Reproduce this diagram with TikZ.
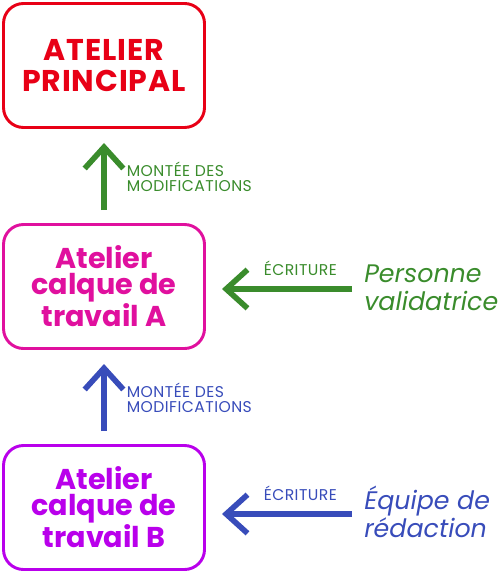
\documentclass[tikz,border=0pt]{standalone}
\usepackage{fontspec}
\setmainfont{Poppins}
\usepackage{xcolor}
\usepackage{tikz}
\usetikzlibrary{arrows.meta}

\definecolor{rouge}{RGB}{232,0,22}
\definecolor{magenta}{RGB}{224,16,158}
\definecolor{violet}{RGB}{185,0,235}
\definecolor{vert}{RGB}{58,140,44}
\definecolor{bleu}{RGB}{56,76,186}

\tikzstyle{atelier} = [draw, rectangle, rounded corners=15pt, line width=2.2pt, minimum width=150.75pt, minimum height=93pt, align=center, font=\bfseries]
\tikzstyle{fleche} = [line width=4.2pt, -{Straight Barb[length=16pt, width=29pt]}]
\tikzstyle{etiquette} = [align=left, font=\fontsize{11.7}{11}\selectfont\addfontfeature{LetterSpace=3}, inner sep=0pt]
\tikzstyle{acteur} = [align=left, font=\itshape\fontsize{19}{21}\selectfont, inner sep=0pt]

\begin{document}
\begin{tikzpicture}[x=0.75pt, y=-0.75pt]
  \useasboundingbox (0, 0) rectangle (500, 574);

  \node[atelier, rouge, font=\bfseries\fontsize{22.5}{23}\selectfont\addfontfeature{LetterSpace=3}] at (104, 65.5) (principal) {ATELIER\\PRINCIPAL};
  \node[atelier, magenta, font=\bfseries\fontsize{21.5}{19.5}\selectfont] at (104, 286.5) (calqueA) {Atelier\\calque de\\travail A};
  \node[atelier, violet, font=\bfseries\fontsize{21.5}{19.5}\selectfont] at (104, 507.5) (calqueB) {Atelier\\calque de\\travail B};

  \node[acteur, vert, anchor=west] at (364, 288) (validatrice) {Personne\\validatrice};
  \node[acteur, bleu, anchor=west] at (364, 512) (redaction) {Équipe de\\rédaction};

  \draw[fleche, vert] (calqueA.north |- 0, 210) -- node[etiquette, anchor=west, xshift=15pt] {MONTÉE DES\\MODIFICATIONS} (104, 143);
  \draw[fleche, bleu] (calqueB.north |- 0, 431) -- node[etiquette, anchor=west, xshift=15pt] {MONTÉE DES\\MODIFICATIONS} (104, 364);

  \draw[fleche, vert] (352, 289) -- node[etiquette, above, yshift=8pt, xshift=10pt] {ÉCRITURE} (222, 289);
  \draw[fleche, bleu] (352, 514) -- node[etiquette, above, yshift=8pt, xshift=10pt] {ÉCRITURE} (222, 514);

\end{tikzpicture}
\end{document}
